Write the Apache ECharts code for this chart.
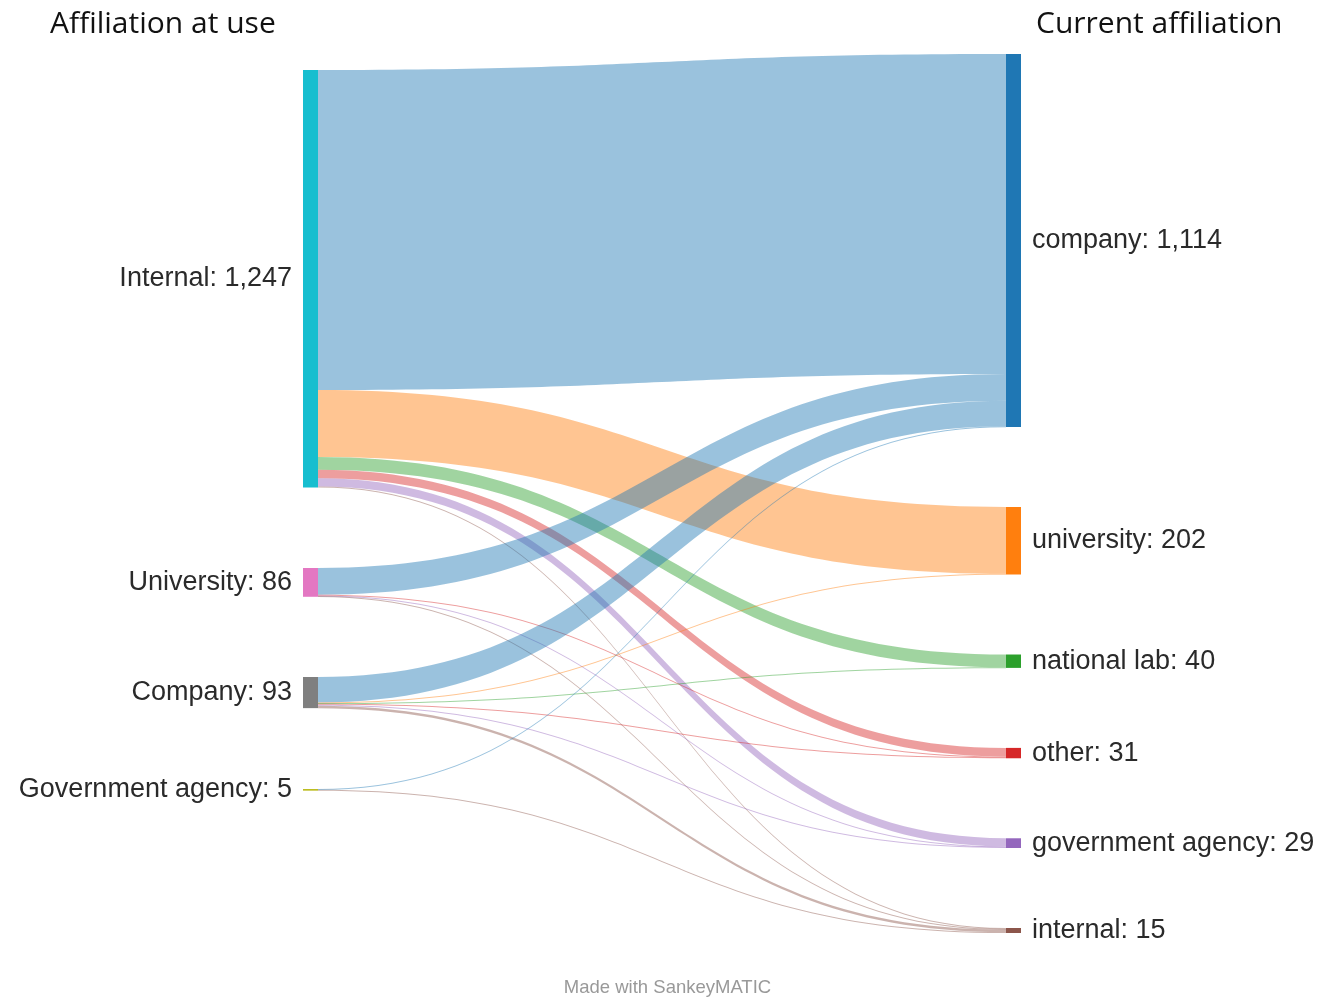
<!DOCTYPE html>
<html>
<head>
<meta charset="utf-8">
<script src="https://cdn.jsdelivr.net/npm/echarts@6/dist/echarts.min.js"></script>
<style>
html,body{margin:0;padding:0;background:#fff;}
#chart{width:1335px;height:997px;}
</style>
</head>
<body>
<div id="chart"></div>
<script>
// ---- data ----
const leftNodes = ['Internal', 'University', 'Company', 'Government agency'];
const rightNodes = ['company', 'university', 'national lab', 'other', 'government agency', 'internal'];
// flows from each left node, aligned with rightNodes
const fromInternal = [956, 200, 38, 26, 24, 3];
const fromUniversity = [80, 0, 0, 2, 2, 2];
const fromCompany = [76, 2, 2, 3, 3, 7];
const fromGovernment = [2, 0, 0, 0, 0, 3];
const leftTitle = 'Affiliation at use';
const rightTitle = 'Current affiliation';
const footer = 'Made with SankeyMATIC';

// ---- layout & styles ----
const leftColors = ['#17becf', '#e377c2', '#7f7f7f', '#bcbd22'];
const rightColors = ['#1f77b4', '#ff7f0e', '#2ca02c', '#d62728', '#9467bd', '#8c564b'];
const plotTop = 54, plotBottom = 64, plotH = 997 - plotTop - plotBottom;
const leftNodeTopPx = [70, 568, 677, 789]; // vertical placement of left column

const flowRows = [fromInternal, fromUniversity, fromCompany, fromGovernment];
const display = {};
const nodes = [];
leftNodes.forEach((n, i) => {
  const id = 'L_' + n; display[id] = n;
  nodes.push({ name: id, localY: (leftNodeTopPx[i] - plotTop) / plotH,
    itemStyle: { color: leftColors[i] }, label: { position: 'left' } });
});
rightNodes.forEach((n, i) => {
  const id = 'R_' + n; display[id] = n;
  nodes.push({ name: id, itemStyle: { color: rightColors[i] }, label: { position: 'right' } });
});
const links = [];
flowRows.forEach((row, i) => {
  row.forEach((v, j) => {
    if (v > 0) links.push({ source: 'L_' + leftNodes[i], target: 'R_' + rightNodes[j], value: v });
  });
});

const chart = echarts.init(document.getElementById('chart'));
chart.setOption({
  backgroundColor: '#fff',
  animation: false,
  series: [{
    type: 'sankey',
    left: 303, right: 314, top: plotTop, bottom: plotBottom,
    nodeWidth: 15,
    nodeGap: 80,
    nodeAlign: 'justify',
    layoutIterations: 32,
    draggable: false,
    emphasis: { disabled: true },
    data: nodes,
    links: links,
    itemStyle: { borderWidth: 0 },
    lineStyle: { color: 'target', opacity: 0.45, curveness: 0.5 },
    label: {
      show: true,
      fontFamily: '"Liberation Sans", Arial, sans-serif',
      fontSize: 27,
      color: '#2a2a2a',
      distance: 11,
      formatter: p => display[p.name] + ': ' + Number(p.value).toLocaleString('en-US')
    }
  }],
  graphic: [
    { type: 'text', left: 50, top: 9, style: { text: leftTitle, font: '30px "Open Sans", sans-serif', fill: '#111' } },
    { type: 'text', left: 1036, top: 9, style: { text: rightTitle, font: '30px "Open Sans", sans-serif', fill: '#111' } },
    { type: 'text', left: 'center', top: 978, style: { text: footer, font: '18.5px "Liberation Sans", Arial, sans-serif', fill: '#999' } }
  ]
});
</script>
</body>
</html>
